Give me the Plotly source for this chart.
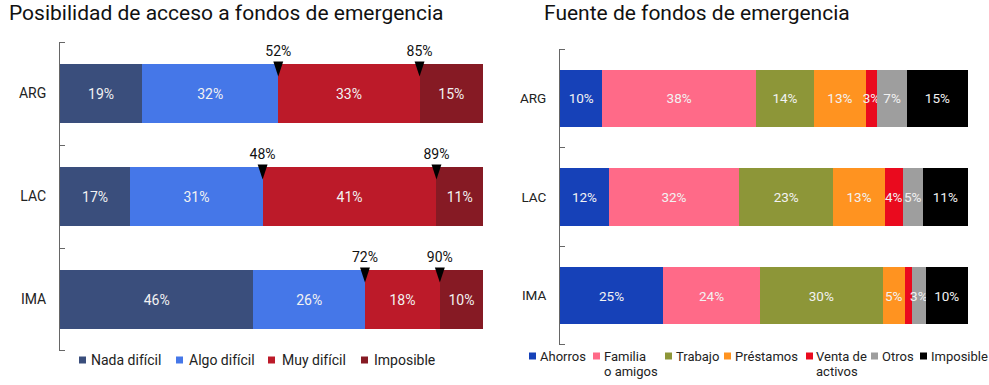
import plotly.graph_objects as go

# ---------------- data ----------------
regions = ["ARG", "LAC", "IMA"]

# Left chart: Posibilidad de acceso a fondos de emergencia (%)
acc_names = ["Nada difícil", "Algo difícil", "Muy difícil", "Imposible"]
nada_dificil = [19.4, 16.6, 45.7]
algo_dificil = [32.2, 31.3, 26.4]
muy_dificil = [33.4, 41.1, 17.7]
imposible_acceso = [15.0, 11.0, 10.2]

# Right chart: Fuente de fondos de emergencia (%)
fuente_names = ["Ahorros", "Familia<br>o amigos", "Trabajo", "Préstamos",
                "Venta de<br>activos", "Otros", "Imposible"]
ahorros = [10.4, 12.0, 25.3]
familia_amigos = [37.6, 31.9, 23.7]
trabajo = [14.3, 23.1, 30.1]
prestamos = [12.6, 12.6, 5.4]
venta_activos = [2.9, 4.4, 1.8]
otros = [7.2, 4.9, 3.3]
imposible_fuente = [15.0, 11.1, 10.4]

# ---------------- styles ----------------
acc_series = [nada_dificil, algo_dificil, muy_dificil, imposible_acceso]
acc_colors = ["#3A4E7C", "#4577E8", "#BC1A29", "#861A24"]
fuente_series = [ahorros, familia_amigos, trabajo, prestamos, venta_activos, otros, imposible_fuente]
fuente_colors = ["#1641B8", "#FF6A88", "#8D9638", "#FF9320", "#EA0A1E", "#9E9E9E", "#000000"]

W, H = 989, 385
FONT = "Roboto"
BAR_W = 0.58
ypos = list(range(len(regions)))


def px(x):
    return x / W


def py(y):
    return 1 - y / H


def pct(v, minimum=0):
    return f"{v:.0f}%" if v >= minimum else ""


fig = go.Figure()

# left stacked bars
for name, vals, col in zip(acc_names, acc_series, acc_colors):
    fig.add_trace(go.Bar(
        orientation="h", y=ypos, x=vals, name=name, width=BAR_W,
        marker=dict(color=col, line=dict(width=0)),
        text=[pct(v) for v in vals], textposition="inside",
        insidetextanchor="middle", textangle=0, constraintext="none",
        insidetextfont=dict(color="#F2F2F2", size=14, family=FONT),
        xaxis="x", yaxis="y", showlegend=False, hoverinfo="skip"))

# cumulative markers (Nada+Algo, Nada+Algo+Muy)
cum1 = [a + b for a, b in zip(nada_dificil, algo_dificil)]
cum2 = [c + m for c, m in zip(cum1, muy_dificil)]
mark_x = cum1 + cum2
mark_y = ypos + ypos
fig.add_trace(go.Scatter(
    x=mark_x, y=[y - BAR_W / 2 + 0.126 for y in mark_y], mode="markers",
    marker=dict(symbol="arrow", angle=180, size=16, color="black", line=dict(width=0)),
    xaxis="x", yaxis="y", showlegend=False, hoverinfo="skip", cliponaxis=False))
fig.add_trace(go.Scatter(
    x=mark_x, y=[y - BAR_W / 2 - 0.105 for y in mark_y], mode="text",
    text=[pct(v) for v in mark_x], textposition="middle center",
    textfont=dict(size=14, color="#111111", family=FONT),
    xaxis="x", yaxis="y", showlegend=False, hoverinfo="skip", cliponaxis=False))

# right stacked bars
for name, vals, col in zip(fuente_names, fuente_series, fuente_colors):
    fig.add_trace(go.Bar(
        orientation="h", y=ypos, x=vals, name=name.replace("<br>", " "), width=BAR_W,
        marker=dict(color=col, line=dict(width=0)),
        text=[pct(v, 2.5) for v in vals], textposition="inside",
        insidetextanchor="middle", textangle=0, constraintext="none",
        insidetextfont=dict(color="#F2F2F2", size=13.5, family=FONT),
        xaxis="x2", yaxis="y2", showlegend=False, hoverinfo="skip"))

yaxis_common = dict(
    range=[len(regions) - 0.5, -0.5], tickmode="array", tickvals=ypos, ticktext=regions,
    ticks="", showline=True, linecolor="#666666", linewidth=1, showgrid=False,
    zeroline=False, ticklabelstandoff=10, fixedrange=True,
    minor=dict(tickmode="array", tickvals=[-0.499, 0.5, 1.5, 2.499], ticks="inside",
               ticklen=5, tickcolor="#666666", tickwidth=1, showgrid=False),
)

fig.update_layout(
    width=W, height=H, margin=dict(l=0, r=0, t=0, b=0),
    paper_bgcolor="white", plot_bgcolor="white",
    font=dict(family=FONT, color="#222222"),
    barmode="stack", showlegend=False,
    xaxis=dict(domain=[px(60), px(483)], range=[0, 100], visible=False, anchor="y", fixedrange=True),
    yaxis=dict(domain=[py(351), py(42)], anchor="x", tickfont=dict(size=14, color="#222222"), **yaxis_common),
    xaxis2=dict(domain=[px(560), px(968)], range=[0, 100], visible=False, anchor="y2", fixedrange=True),
    yaxis2=dict(domain=[py(345), py(49)], anchor="x2", tickfont=dict(size=13.5, color="#222222"), **yaxis_common),
)

annotations = [
    dict(text="Posibilidad de acceso a fondos de emergencia", x=px(7), y=py(13),
         xref="paper", yref="paper", xanchor="left", yanchor="middle", showarrow=False,
         font=dict(size=21, color="#111111", family=FONT)),
    dict(text="Fuente de fondos de emergencia", x=px(542), y=py(13),
         xref="paper", yref="paper", xanchor="left", yanchor="middle", showarrow=False,
         font=dict(size=21, color="#111111", family=FONT)),
]
shapes = []

# left legend
left_sq_x = [79, 176, 268, 361]
left_txt_x = [89, 187, 280, 372]
LEG_Y = 360
SQ = 7
for name, col, sx, tx in zip(acc_names, acc_colors, left_sq_x, left_txt_x):
    shapes.append(dict(type="rect", xref="paper", yref="paper", x0=px(sx), x1=px(sx + SQ),
                       y0=py(LEG_Y + SQ / 2), y1=py(LEG_Y - SQ / 2), fillcolor=col, line=dict(width=0)))
    annotations.append(dict(text=name, x=px(tx), y=py(LEG_Y), xref="paper", yref="paper",
                            xanchor="left", yanchor="middle", showarrow=False,
                            font=dict(size=14, color="#222222", family=FONT)))

# right legend
right_sq_x = [529, 593, 665, 724, 806, 871, 920]
right_txt_x = [538, 602, 674, 733, 814, 880, 929]
RLEG_Y = 356
RLINE = 15
for name, col, sx, tx in zip(fuente_names, fuente_colors, right_sq_x, right_txt_x):
    shapes.append(dict(type="rect", xref="paper", yref="paper", x0=px(sx), x1=px(sx + SQ),
                       y0=py(RLEG_Y + SQ / 2), y1=py(RLEG_Y - SQ / 2), fillcolor=col, line=dict(width=0)))
    for k, line in enumerate(name.split("<br>")):
        annotations.append(dict(text=line, x=px(tx), y=py(RLEG_Y + k * RLINE), xref="paper", yref="paper",
                                xanchor="left", yanchor="middle", align="left", showarrow=False,
                                font=dict(size=13, color="#222222", family=FONT)))

fig.update_layout(annotations=annotations, shapes=shapes)
fig.write_html("out.html", config={"displayModeBar": False},
               post_script="document.body.style.margin='0';document.body.style.overflow='hidden';")
